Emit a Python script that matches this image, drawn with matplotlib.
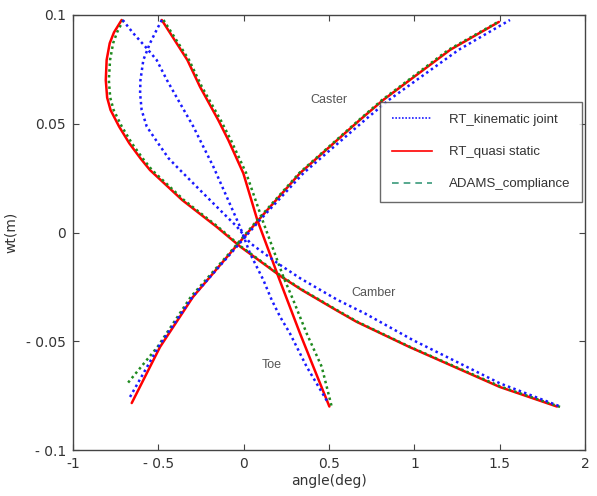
import matplotlib
matplotlib.use("Agg")
import matplotlib.pyplot as plt
from matplotlib.lines import Line2D

# wheel travel wt (m) vs angle (deg)
# --- Caster ---
caster_rt_qs_wt = [-0.0784, -0.0526, -0.0296, -0.0096, 0.0057, 0.0273, 0.0517, 0.0609, 0.084, 0.0968]
caster_rt_qs_ang = [-0.656, -0.49, -0.297, -0.08, 0.086, 0.33, 0.68, 0.817, 1.21, 1.495]
caster_rt_kin_wt = [-0.0756, -0.0526, -0.0296, -0.0096, 0.0057, 0.0273, 0.0517, 0.0609, 0.084, 0.0977]
caster_rt_kin_ang = [-0.666, -0.50, -0.30, -0.075, 0.095, 0.35, 0.71, 0.85, 1.26, 1.56]
caster_adams_wt = [-0.069, -0.0526, -0.0296, -0.0096, 0.0057, 0.0273, 0.0517, 0.0609, 0.084, 0.0968]
caster_adams_ang = [-0.677, -0.505, -0.31, -0.085, 0.08, 0.325, 0.675, 0.81, 1.2, 1.49]

# --- Camber ---
camber_rt_qs_wt = [0.0977, 0.092, 0.087, 0.0793, 0.070, 0.062, 0.0563, 0.0487, 0.041, 0.0341, 0.0287,
                   0.0149, 0.0027, -0.0065, -0.0203, -0.0264, -0.0356, -0.041, -0.0526, -0.071, -0.080]
camber_rt_qs_ang = [-0.715, -0.76, -0.785, -0.803, -0.808, -0.80, -0.78, -0.73, -0.67, -0.605, -0.549,
                    -0.36, -0.16, -0.02, 0.22, 0.34, 0.54, 0.66, 0.97, 1.5, 1.835]
camber_adams_wt = [0.0977, 0.092, 0.087, 0.0793, 0.070, 0.062, 0.0563, 0.0487, 0.041, 0.0341, 0.0287,
                   0.0149, 0.0027, -0.0065, -0.0203, -0.0264, -0.0356, -0.041, -0.0526, -0.071, -0.0805]
camber_adams_ang = [-0.705, -0.742, -0.765, -0.783, -0.79, -0.782, -0.762, -0.714, -0.655, -0.592, -0.537,
                    -0.35, -0.152, -0.015, 0.225, 0.345, 0.545, 0.665, 0.975, 1.51, 1.865]
camber_rt_kin_wt = [0.0977, 0.0916, 0.087, 0.0793, 0.070, 0.064, 0.0563, 0.0487, 0.042, 0.0341, 0.0303,
                    0.0195, 0.0088, 0.0027, -0.005, -0.0142, -0.021, -0.031, -0.0372, -0.0494, -0.0693, -0.080]
camber_rt_kin_ang = [-0.48, -0.52, -0.549, -0.588, -0.605, -0.607, -0.598, -0.568, -0.51, -0.44, -0.393,
                     -0.256, -0.119, -0.04, 0.04, 0.2, 0.33, 0.55, 0.71, 0.99, 1.5, 1.855]

# --- Toe ---
toe_rt_qs_wt = [0.0977, 0.0793, 0.067, 0.0517, 0.0425, 0.0272, 0.0057, -0.0203, -0.031, -0.0464, -0.0617, -0.080]
toe_rt_qs_ang = [-0.48, -0.33, -0.256, -0.149, -0.09, -0.002, 0.08, 0.203, 0.255, 0.33, 0.408, 0.502]
toe_adams_wt = [0.0977, 0.0793, 0.067, 0.0517, 0.0425, 0.0272, 0.0057, -0.0203, -0.031, -0.0464, -0.0617, -0.0805]
toe_adams_ang = [-0.47, -0.32, -0.245, -0.135, -0.075, 0.015, 0.11, 0.232, 0.29, 0.369, 0.457, 0.517]
toe_rt_kin_wt = [0.0977, 0.0916, 0.0847, 0.0793, 0.0701, 0.0594, 0.0487, 0.0425, 0.0303, 0.0165, 0.0027,
                 -0.0096, -0.0218, -0.031, -0.0387, -0.0464, -0.0617, -0.0785]
toe_rt_kin_ang = [-0.709, -0.647, -0.568, -0.51, -0.45, -0.373, -0.295, -0.256, -0.178, -0.10, -0.022,
                  0.037, 0.115, 0.164, 0.213, 0.271, 0.369, 0.496]

xticks = [-1, -0.5, 0, 0.5, 1, 1.5, 2]
xtick_labels = ["-1", "- 0.5", "0", "0.5", "1", "1.5", "2"]
yticks = [-0.1, -0.05, 0, 0.05, 0.1]
ytick_labels = ["- 0.1", "- 0.05", "0", "0.05", "0.1"]

red = "#ff0000"
blue = "#1a1aff"
green = "#1f8a1f"

fig = plt.figure(figsize=(5.97, 4.96), dpi=100)
ax = fig.add_axes([0.1223, 0.0927, 0.8577, 0.8771])

# red (quasi static)
for a, w in [(caster_rt_qs_ang, caster_rt_qs_wt), (camber_rt_qs_ang, camber_rt_qs_wt), (toe_rt_qs_ang, toe_rt_qs_wt)]:
    ax.plot(a, w, color=red, lw=1.8, solid_capstyle="round")
# green (ADAMS) - looks dotted on the plot
for a, w in [(caster_adams_ang, caster_adams_wt), (camber_adams_ang, camber_adams_wt), (toe_adams_ang, toe_adams_wt)]:
    ax.plot(a, w, color=green, lw=1.8, linestyle=(0, (1, 1.3)))
# blue (kinematic)
for a, w in [(caster_rt_kin_ang, caster_rt_kin_wt), (camber_rt_kin_ang, camber_rt_kin_wt), (toe_rt_kin_ang, toe_rt_kin_wt)]:
    ax.plot(a, w, color=blue, lw=1.8, linestyle=(0, (1, 1.3)))

ax.set_xlim(-1, 2)
ax.set_ylim(-0.1, 0.1)
ax.set_xticks(xticks)
ax.set_xticklabels(xtick_labels)
ax.set_yticks(yticks)
ax.set_yticklabels(ytick_labels)
ax.tick_params(direction="in", length=4, width=0.8, top=True, right=True,
               labelsize=10, colors="#444444", labelcolor="#333333", pad=5)
for s in ax.spines.values():
    s.set_color("#444444")
    s.set_linewidth(1.0)

ax.set_xlabel("angle(deg)", fontsize=10, color="#333333", labelpad=2)
ax.set_ylabel("wt(m)", fontsize=10, color="#333333", labelpad=6)

txt = dict(fontsize=9, color="#555555", family="Liberation Sans", ha="center", va="center")
ax.text(0.5, 0.061, "Caster", **txt)
ax.text(0.76, -0.028, "Camber", **txt)
ax.text(0.165, -0.061, "Toe", **txt)

handles = [
    Line2D([], [], color=blue, lw=1.2, linestyle=(0, (1, 1))),
    Line2D([], [], color=red, lw=1.2),
    Line2D([], [], color="#3a9a7a", lw=1.2, linestyle=(0, (4, 3))),
]
labels = ["RT_kinematic joint", "RT_quasi static", "ADAMS_compliance"]
leg = ax.legend(handles, labels, loc="upper left", bbox_to_anchor=(0.6, 0.8),
                prop={"family": "Liberation Sans", "size": 9.5}, labelspacing=1.5,
                handlelength=3.0, handletextpad=1.3, borderpad=0.9, fancybox=False,
                frameon=True, borderaxespad=0)
leg.get_frame().set_edgecolor("#444444")
leg.get_frame().set_linewidth(1.0)
for t in leg.get_texts():
    t.set_color("#333333")

fig.savefig("out.png", dpi=100)
